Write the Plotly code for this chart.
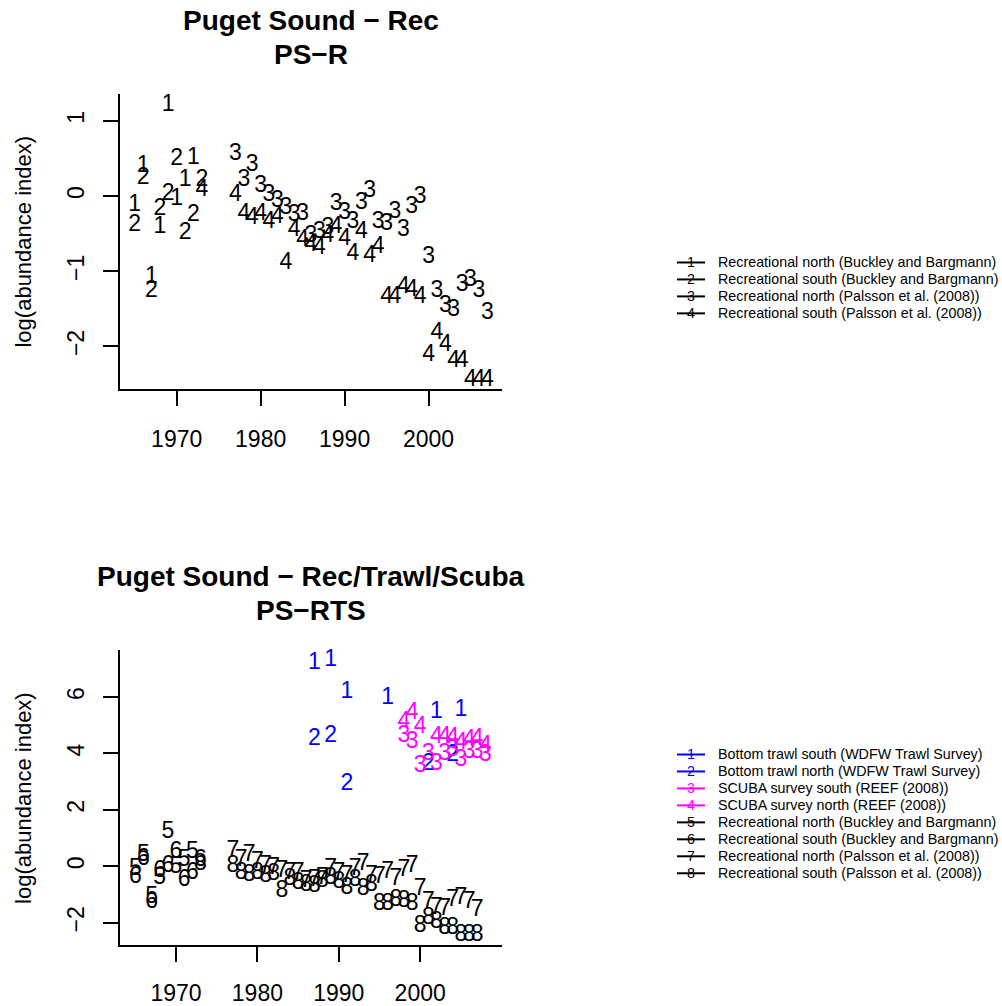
import plotly.graph_objects as go

# ---------------- data ----------------
# Top panel: Puget Sound - Rec (PS-R)
rn_bb_years = [1965, 1966, 1967, 1968, 1969, 1970, 1971, 1972]
rn_bb_vals = [-0.12, 0.40, -1.08, -0.41, 1.21, -0.04, 0.21, 0.50]

rs_bb_years = [1965, 1966, 1967, 1968, 1969, 1970, 1971, 1972, 1973]
rs_bb_vals = [-0.39, 0.24, -1.27, -0.18, 0.02, 0.49, -0.50, -0.25, 0.21]

rn_pal_years = [1977, 1978, 1979, 1980, 1981, 1982, 1983, 1984, 1985, 1986,
                1987, 1988, 1989, 1990, 1991, 1992, 1993, 1994, 1995, 1996,
                1997, 1998, 1999, 2000, 2001, 2002, 2003, 2004, 2005, 2006, 2007]
rn_pal_vals = [0.55, 0.21, 0.41, 0.13, 0.01, -0.07, -0.16, -0.26, -0.24, -0.54,
               -0.48, -0.43, -0.11, -0.23, -0.35, -0.10, 0.06, -0.35, -0.38, -0.21,
               -0.46, -0.15, -0.01, -0.81, -1.27, -1.47, -1.52, -1.19, -1.12, -1.27, -1.56]

rs_pal_years = [1973, 1977, 1978, 1979, 1980, 1981, 1982, 1983, 1984, 1985, 1986,
                1987, 1988, 1989, 1990, 1991, 1992, 1993, 1994, 1995, 1996,
                1997, 1998, 1999, 2000, 2001, 2002, 2003, 2004, 2005, 2006, 2007]
rs_pal_vals = [0.08, 0.01, -0.24, -0.30, -0.24, -0.35, -0.28, -0.89, -0.46, -0.59, -0.66,
               -0.70, -0.53, -0.41, -0.57, -0.77, -0.48, -0.80, -0.68, -1.34, -1.34,
               -1.21, -1.25, -1.34, -2.12, -1.83, -1.98, -2.20, -2.20, -2.45, -2.45, -2.45]

# Bottom panel extra series: Puget Sound - Rec/Trawl/Scuba (PS-RTS)
trawl_s_years = [1987, 1989, 1991, 1996, 2002, 2005]
trawl_s_vals = [7.18, 7.29, 6.16, 5.96, 5.46, 5.52]

trawl_n_years = [1987, 1989, 1991, 2001, 2004]
trawl_n_vals = [4.51, 4.60, 2.90, 3.60, 3.92]

scuba_s_years = [1998, 1999, 2000, 2001, 2002, 2003, 2004, 2005, 2006, 2007, 2008]
scuba_s_vals = [4.62, 4.38, 3.56, 3.97, 3.61, 3.97, 4.13, 3.75, 4.03, 4.05, 3.93]

scuba_n_years = [1998, 1999, 2000, 2002, 2003, 2004, 2005, 2006, 2007, 2008]
scuba_n_vals = [5.12, 5.41, 4.94, 4.59, 4.59, 4.53, 4.35, 4.47, 4.50, 4.24]

top_labels = ["Recreational north (Buckley and Bargmann)",
              "Recreational south (Buckley and Bargmann)",
              "Recreational north (Palsson et al. (2008))",
              "Recreational south (Palsson et al. (2008))"]
bottom_labels = ["Bottom trawl south (WDFW Trawl Survey)",
                 "Bottom trawl north (WDFW Trawl Survey)",
                 "SCUBA survey south (REEF (2008))",
                 "SCUBA survey north (REEF (2008))",
                 "Recreational north (Buckley and Bargmann)",
                 "Recreational south (Buckley and Bargmann)",
                 "Recreational north (Palsson et al. (2008))",
                 "Recreational south (Palsson et al. (2008))"]

x_tickvals = [1970, 1980, 1990, 2000]
x_ticktext = ["1970", "1980", "1990", "2000"]
top_y_tickvals = [-2, -1, 0, 1]
top_y_ticktext = ["\u22122", "\u22121", "0", "1"]
bot_y_tickvals = [-2, 0, 2, 4, 6]
bot_y_ticktext = ["\u22122", "0", "2", "4", "6"]

# ---------------- styling ----------------
W, H = 1002, 1006
FONT = "Liberation Sans, Arial, Helvetica, sans-serif"
BLUE = "#0000FF"
MAG = "#FF00FF"
BLACK = "#000000"
DATA_SIZE = 23


def px(x):
    return x / W


def py(y):
    return 1 - y / H


fig = go.Figure()

top_series = [(rn_bb_years, rn_bb_vals, "1", BLACK),
              (rs_bb_years, rs_bb_vals, "2", BLACK),
              (rn_pal_years, rn_pal_vals, "3", BLACK),
              (rs_pal_years, rs_pal_vals, "4", BLACK)]
bottom_series = [(trawl_s_years, trawl_s_vals, "1", BLUE),
                 (trawl_n_years, trawl_n_vals, "2", BLUE),
                 (scuba_s_years, scuba_s_vals, "3", MAG),
                 (scuba_n_years, scuba_n_vals, "4", MAG),
                 (rn_bb_years, rn_bb_vals, "5", BLACK),
                 (rs_bb_years, rs_bb_vals, "6", BLACK),
                 (rn_pal_years, rn_pal_vals, "7", BLACK),
                 (rs_pal_years, rs_pal_vals, "8", BLACK)]

for xs, ys, lab, col in top_series:
    fig.add_trace(go.Scatter(x=xs, y=ys, mode="text", text=[lab] * len(xs),
                             textposition="middle center",
                             textfont=dict(size=DATA_SIZE, color=col, family=FONT),
                             hoverinfo="skip", showlegend=False, cliponaxis=False,
                             xaxis="x", yaxis="y"))
for xs, ys, lab, col in bottom_series:
    fig.add_trace(go.Scatter(x=xs, y=ys, mode="text", text=[lab] * len(xs),
                             textposition="middle center",
                             textfont=dict(size=DATA_SIZE, color=col, family=FONT),
                             hoverinfo="skip", showlegend=False, cliponaxis=False,
                             xaxis="x2", yaxis="y2"))

axis_common = dict(showgrid=False, zeroline=False, showline=True, linecolor="black",
                   linewidth=2, ticks="outside", ticklen=15, tickwidth=2,
                   tickcolor="black", tickfont=dict(size=23, color="black", family=FONT),
                   mirror=False, fixedrange=True)

fig.update_layout(
    width=W, height=H,
    margin=dict(l=0, r=0, t=0, b=0),
    paper_bgcolor="white", plot_bgcolor="white",
    showlegend=False,
    xaxis=dict(axis_common, domain=[px(120), px(502)], range=[1963.25, 2008.75],
               tickvals=x_tickvals, ticktext=x_ticktext, anchor="y",
               ticklabelstandoff=13),
    yaxis=dict(axis_common, domain=[py(390), py(94)], range=[-2.57, 1.36],
               tickvals=top_y_tickvals, ticktext=top_y_ticktext, anchor="x",
               tickangle=-90, ticklabelstandoff=10),
    xaxis2=dict(axis_common, domain=[px(120), px(502)], range=[1963.12, 2010.05],
                tickvals=x_tickvals, ticktext=x_ticktext, anchor="y2",
                ticklabelstandoff=11),
    yaxis2=dict(axis_common, domain=[py(947.3), py(651.7)], range=[-2.8, 7.65],
                tickvals=bot_y_tickvals, ticktext=bot_y_ticktext, anchor="x2",
                tickangle=-90, ticklabelstandoff=10),
)

annotations = []
# titles
for text, y in [("Puget Sound \u2212 Rec", 21), ("PS\u2212R", 55),
                ("Puget Sound \u2212 Rec/Trawl/Scuba", 578), ("PS\u2212RTS", 612)]:
    annotations.append(dict(text="<b>%s</b>" % text, x=px(311), y=py(y),
                            xref="paper", yref="paper", xanchor="center",
                            yanchor="middle", showarrow=False,
                            font=dict(size=28, color="black", family=FONT)))
# y-axis titles
for yc in [242, 799.5]:
    annotations.append(dict(text="log(abundance index)", x=px(24), y=py(yc),
                            xref="paper", yref="paper", xanchor="center",
                            yanchor="middle", showarrow=False, textangle=-90,
                            font=dict(size=22, color="black", family=FONT)))

shapes = []
LEG_FONT = 14.3


def add_legend(labels, series, rows_y):
    for (xs, ys, lab, col), text, ry in zip(series, labels, rows_y):
        shapes.append(dict(type="line", xref="paper", yref="paper",
                           x0=px(677), x1=px(705), y0=py(ry), y1=py(ry),
                           line=dict(color=col, width=2)))
        annotations.append(dict(text=lab, x=px(691), y=py(ry), xref="paper",
                                yref="paper", xanchor="center", yanchor="middle",
                                showarrow=False,
                                font=dict(size=LEG_FONT, color=col, family=FONT)))
        annotations.append(dict(text=text, x=px(716), y=py(ry), xref="paper",
                                yref="paper", xanchor="left", yanchor="middle",
                                showarrow=False,
                                font=dict(size=LEG_FONT, color="black", family=FONT)))


add_legend(top_labels, top_series, [263, 280, 297, 314])
add_legend(bottom_labels, bottom_series, [756 + 17 * i for i in range(8)])

fig.update_layout(annotations=annotations, shapes=shapes)

fig.write_html("out.html", config=dict(displayModeBar=False),
               post_script="document.body.style.margin='0';document.body.style.overflow='hidden';")
